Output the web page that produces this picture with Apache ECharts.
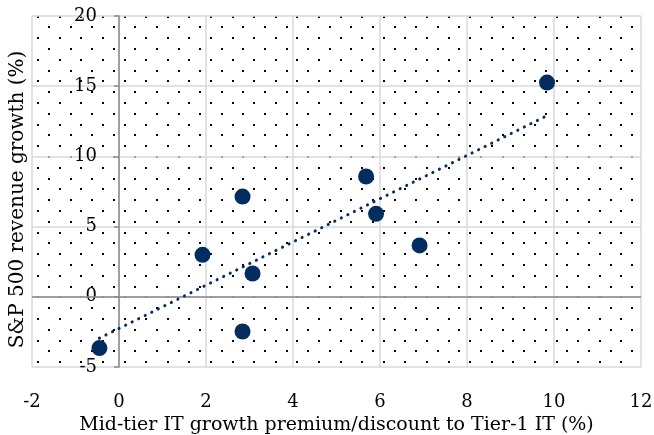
<!DOCTYPE html>
<html>
<head>
<meta charset="utf-8">
<script src="https://cdn.jsdelivr.net/npm/echarts@6/dist/echarts.min.js"></script>
<style>
html,body{margin:0;padding:0;background:#fff;}
#chart{width:654px;height:435px;}
</style>
</head>
<body>
<div id="chart"></div>
<script>
// ---- data ----
const xValues = [-0.45, 1.92, 2.84, 3.07, 2.84, 5.68, 5.91, 6.91, 9.84];
const yValues = [-3.65, 2.99, 7.14, 1.66, -2.47, 8.57, 5.91, 3.66, 15.26];
const trendX = [-0.45, 9.84];
const trendY = [-2.95, 12.9];
const xTicks = { min: -2, max: 12, step: 2 };
const yTicks = { min: -5, max: 20, step: 5 };
const xTitle = 'Mid-tier IT growth premium/discount to Tier-1 IT (%)';
const yTitle = 'S&P 500 revenue growth (%)';

// ---- dotted background pattern (Excel-like 5% dots) ----
function makePattern() {
  const period = 21.6, n = 5, size = Math.round(period * n); // 108
  const c = document.createElement('canvas');
  c.width = size; c.height = size;
  const g = c.getContext('2d');
  g.fillStyle = '#fff';
  g.fillRect(0, 0, size, size);
  g.fillStyle = '#000';
  for (let i = 0; i < n; i++) {
    for (let j = 0; j < n; j++) {
      const ax = 5.8 + i * period, ay = 5.7 + j * period;
      g.fillRect(Math.round(ax - 1), Math.round(ay - 1), 2, 2);
      const bx = 16.6 + i * period, by = 16.5 + j * period;
      g.fillRect(Math.round(bx - 1), Math.round(by - 1), 2, 2);
    }
  }
  return c;
}

const pts = xValues.map((x, i) => [x, yValues[i]]);
const trend = trendX.map((x, i) => [x, trendY[i]]);
const FONT = 'DejaVu Serif';
const NAVY = '#032d5e';

const GRID = { left: 32, right: 13, top: 16, bottom: 68 };
const plotW = 654 - GRID.left - GRID.right;
// shift the y axis (line, ticks, labels, name) onto x = 0
const yAxisOffset = -plotW * (0 - xTicks.min) / (xTicks.max - xTicks.min);

const chart = echarts.init(document.getElementById('chart'), null, { renderer: 'canvas' });
chart.setOption({
  animation: false,
  backgroundColor: '#fff',
  grid: Object.assign({
    containLabel: false,
    outerBoundsMode: 'none',
    show: true,
    borderWidth: 0,
    backgroundColor: { image: makePattern(), repeat: 'repeat' }
  }, GRID),
  xAxis: {
    type: 'value',
    min: xTicks.min, max: xTicks.max, interval: xTicks.step,
    axisLine: { show: false, onZero: false },
    axisTick: { show: false },
    splitLine: { show: true, lineStyle: { color: '#d9d9d9', width: 1.5 } },
    axisLabel: { color: '#000', fontFamily: FONT, fontSize: 18, margin: 26 },
    name: xTitle,
    nameLocation: 'middle',
    nameGap: 39,
    nameTextStyle: { color: '#000', fontFamily: FONT, fontSize: 19 }
  },
  yAxis: {
    type: 'value',
    position: 'left',
    offset: yAxisOffset,
    min: yTicks.min, max: yTicks.max, interval: yTicks.step,
    axisLine: { show: true, onZero: false, lineStyle: { color: '#8a8a8a', width: 1.5 } },
    axisTick: { show: true, length: 5, lineStyle: { color: '#8a8a8a', width: 1.5 } },
    splitLine: { show: true, lineStyle: { color: '#d9d9d9', width: 1.5 } },
    axisLabel: { color: '#000', fontFamily: FONT, fontSize: 18, margin: 22 },
    name: yTitle,
    nameLocation: 'middle',
    nameGap: 91,
    nameTextStyle: { color: '#000', fontFamily: FONT, fontSize: 20, padding: [0, 16, 0, 0] }
  },
  series: [
    {
      type: 'line',
      data: trend,
      symbol: 'none',
      silent: true,
      z: 3,
      lineStyle: { color: NAVY, width: 3, type: [0.1, 7.2], cap: 'round' },
      markLine: {
        silent: true,
        symbol: 'none',
        label: { show: false },
        lineStyle: { color: '#8a8a8a', width: 1.5, type: 'solid' },
        data: [{ yAxis: 0 }],
        z: 1
      }
    },
    {
      type: 'scatter',
      data: pts,
      symbol: 'circle',
      symbolSize: 16,
      z: 4,
      itemStyle: { color: NAVY, opacity: 1 }
    }
  ]
});
</script>
</body>
</html>
